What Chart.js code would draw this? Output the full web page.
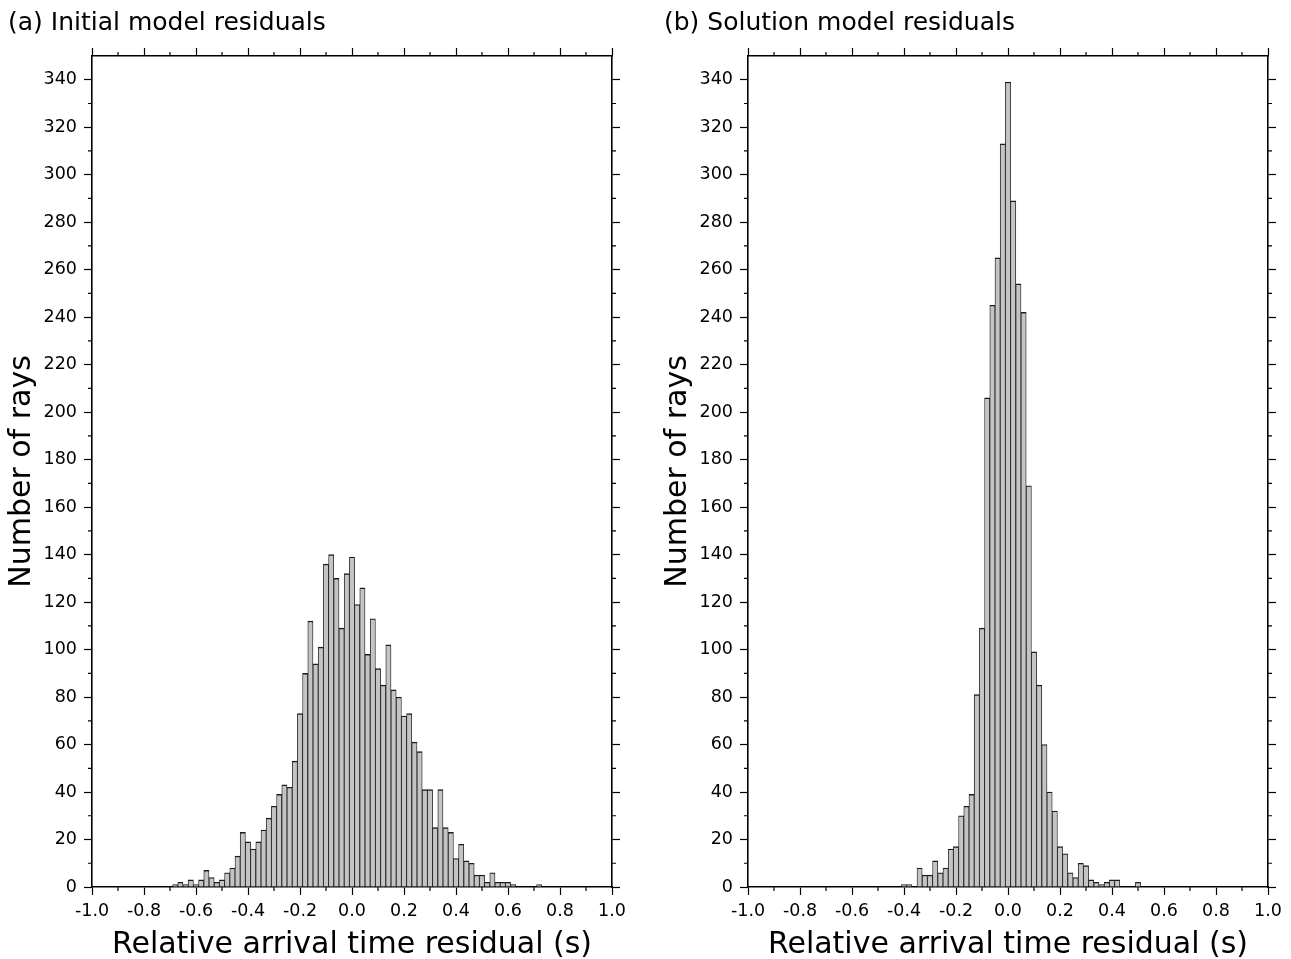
<!DOCTYPE html>
<html>
<head>
<meta charset="utf-8">
<script src="https://cdn.jsdelivr.net/npm/chart.js@4.4.1/dist/chart.umd.min.js"></script>
<style>
  body { margin: 0; background: #fff; overflow: hidden; }
  canvas { position: absolute; top: 0; }
  #chartA { left: 0; }
  #chartB { left: 656px; }
</style>
</head>
<body>
<canvas id="chartA" width="640" height="959"></canvas>
<canvas id="chartB" width="635" height="959"></canvas>
<script>
// bin centres (s) and counts
var binsA = [
  -0.68, -0.66, -0.64, -0.62, -0.60, -0.58, -0.56, -0.54, -0.52, -0.50,
  -0.48, -0.46, -0.44, -0.42, -0.40, -0.38, -0.36, -0.34, -0.32, -0.30,
  -0.28, -0.26, -0.24, -0.22, -0.20, -0.18, -0.16, -0.14, -0.12, -0.10,
  -0.08, -0.06, -0.04, -0.02, 0.00, 0.02, 0.04, 0.06, 0.08, 0.10,
  0.12, 0.14, 0.16, 0.18, 0.20, 0.22, 0.24, 0.26, 0.28, 0.30,
  0.32, 0.34, 0.36, 0.38, 0.40, 0.42, 0.44, 0.46, 0.48, 0.50,
  0.52, 0.54, 0.56, 0.58, 0.60, 0.62, 0.64, 0.66, 0.68, 0.70,
  0.72
];
var countsA = [
  1, 2, 1, 3, 1, 3, 7, 4, 2, 3,
  6, 8, 13, 23, 19, 16, 19, 24, 29, 34,
  39, 43, 42, 53, 73, 90, 112, 94, 101, 136,
  140, 130, 109, 132, 139, 119, 126, 98, 113, 92,
  85, 102, 83, 80, 72, 73, 61, 57, 41, 41,
  25, 41, 25, 23, 12, 18, 11, 10, 5, 5,
  2, 6, 2, 2, 2, 1, 0, 0, 0, 0,
  1
];
var binsB = [
  -0.40, -0.38, -0.36, -0.34, -0.32, -0.30, -0.28, -0.26, -0.24, -0.22,
  -0.20, -0.18, -0.16, -0.14, -0.12, -0.10, -0.08, -0.06, -0.04, -0.02,
  0.00, 0.02, 0.04, 0.06, 0.08, 0.10, 0.12, 0.14, 0.16, 0.18,
  0.20, 0.22, 0.24, 0.26, 0.28, 0.30, 0.32, 0.34, 0.36, 0.38,
  0.40, 0.42, 0.44, 0.46, 0.48, 0.50
];
var countsB = [
  1, 1, 0, 8, 5, 5, 11, 6, 8, 16,
  17, 30, 34, 39, 81, 109, 206, 245, 265, 313,
  339, 289, 254, 242, 169, 99, 85, 60, 40, 32,
  17, 14, 6, 4, 10, 9, 3, 2, 1, 2,
  3, 3, 0, 0, 0, 2
];

var xMinorTicks = [-0.9, -0.7, -0.5, -0.3, -0.1, 0.1, 0.3, 0.5, 0.7, 0.9];
var yMinorTicks = [10, 30, 50, 70, 90, 110, 130, 150, 170, 190, 210, 230, 250, 270, 290, 310, 330];

var FONT = "'DejaVu Sans', sans-serif";
Chart.defaults.font.family = FONT;
Chart.defaults.color = '#000';

// short ticks at the odd tenths / tens, on all four sides
var minorTicks = {
  id: 'minorTicks',
  afterDraw: function (chart) {
    var ctx = chart.ctx, a = chart.chartArea;
    var x = chart.scales.x, y = chart.scales.y;
    ctx.save();
    ctx.strokeStyle = '#000';
    ctx.lineWidth = 1.2;
    ctx.beginPath();
    xMinorTicks.forEach(function (v) {
      var px = x.getPixelForValue(v);
      ctx.moveTo(px, a.bottom); ctx.lineTo(px, a.bottom + 4);
      ctx.moveTo(px, a.top); ctx.lineTo(px, a.top - 4);
    });
    yMinorTicks.forEach(function (v) {
      var py = y.getPixelForValue(v);
      ctx.moveTo(a.left, py); ctx.lineTo(a.left - 4, py);
      ctx.moveTo(a.right, py); ctx.lineTo(a.right + 4, py);
    });
    ctx.stroke();
    ctx.restore();
  }
};

function frameGrid() {
  return { drawOnChartArea: false, drawTicks: true, tickLength: 8, tickWidth: 1.2, tickColor: '#000', offset: false };
}
function frameBorder() {
  return { display: true, color: '#000', width: 1.6 };
}

function drawHist(id, title, bins, counts, padRight) {
  var data = bins.map(function (b, i) { return { x: b, y: counts[i] }; });
  return new Chart(document.getElementById(id), {
    type: 'bar',
    data: {
      datasets: [{
        data: data,
        backgroundColor: '#c4c4c4',
        borderColor: '#1c1c1c',
        borderWidth: { top: 1.4, left: 0.85, right: 0.85, bottom: 0 },
        barPercentage: 1,
        categoryPercentage: 1
      }]
    },
    options: {
      responsive: false,
      animation: false,
      devicePixelRatio: 1,
      layout: { padding: { left: 8, right: padRight, top: 0, bottom: 0 } },
      plugins: {
        legend: { display: false },
        tooltip: { enabled: false },
        title: {
          display: true, text: title, align: 'start', color: '#000',
          font: { size: 25, weight: 'normal', lineHeight: 1.2 },
          padding: { top: 8, bottom: 10 }
        }
      },
      scales: {
        x: {
          type: 'linear', position: 'bottom', min: -1, max: 1, offset: false,
          ticks: {
            stepSize: 0.2, autoSkip: false, maxRotation: 0, padding: 6,
            font: { size: 17.5 },
            callback: function (v) { return v.toFixed(1); }
          },
          grid: frameGrid(),
          border: frameBorder(),
          title: {
            display: true, text: 'Relative arrival time residual (s)',
            font: { size: 30, lineHeight: 1.2 }, padding: { top: 0, bottom: -4 }
          },
          afterFit: function (s) { s.height = 72; }
        },
        x2: {
          type: 'linear', position: 'top', min: -1, max: 1, offset: false,
          ticks: { display: false, stepSize: 0.2 },
          grid: frameGrid(),
          border: frameBorder(),
          afterFit: function (s) { s.height = 8; }
        },
        y: {
          type: 'linear', position: 'left', min: 0, max: 350,
          ticks: { stepSize: 20, includeBounds: false, padding: 7, font: { size: 17.5 } },
          grid: frameGrid(),
          border: frameBorder(),
          title: {
            display: true, text: 'Number of rays',
            font: { size: 30, lineHeight: 1.2 }, padding: { top: -4, bottom: 0 }
          },
          afterFit: function (s) { s.width = 84; }
        },
        y2: {
          type: 'linear', position: 'right', min: 0, max: 350,
          ticks: { display: false, stepSize: 20, includeBounds: false },
          grid: frameGrid(),
          border: frameBorder(),
          afterFit: function (s) { s.width = 8; }
        }
      }
    },
    plugins: [minorTicks]
  });
}

drawHist('chartA', '(a) Initial model residuals', binsA, countsA, 20);
drawHist('chartB', '(b) Solution model residuals', binsB, countsB, 15);
</script>
</body>
</html>
